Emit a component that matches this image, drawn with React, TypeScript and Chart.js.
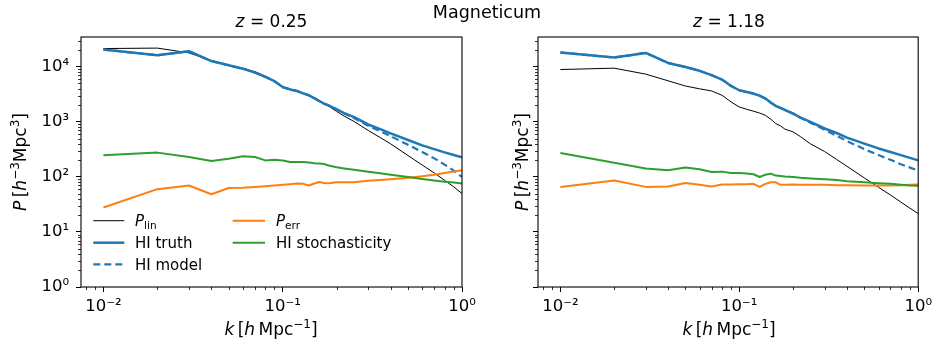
import React, { useEffect, useRef } from "react";
import { Chart, registerables } from "chart.js";

Chart.register(...registerables);

// ---- data ----
const K = [0.01, 0.02, 0.03, 0.04, 0.05, 0.06, 0.07, 0.08, 0.09, 0.1, 0.11, 0.12, 0.13, 0.14, 0.15, 0.16, 0.17, 0.18, 0.2, 0.22, 0.25, 0.3, 0.35, 0.4, 0.5, 0.6, 0.7, 0.8, 0.9, 1.0];

// z = 0.25
const LIN_A = [21600, 22000, 18000, 13000, 10800, 9400, 8200, 6800, 5500, 4300, 3950, 3700, 3350, 3000, 2650, 2350, 2150, 1950, 1550, 1280, 1020, 700, 520, 400, 245, 165, 118, 87, 66, 50];
const TRUTH_A = [20700, 16300, 19300, 12800, 10700, 9300, 7900, 6600, 5500, 4300, 3900, 3650, 3300, 3050, 2700, 2400, 2150, 2000, 1700, 1450, 1220, 900, 740, 620, 470, 375, 320, 280, 250, 228];
const MODEL_A = [20700, 16300, 19300, 12800, 10700, 9300, 7900, 6600, 5500, 4300, 3900, 3650, 3300, 3050, 2700, 2400, 2150, 2000, 1700, 1430, 1180, 850, 680, 550, 385, 285, 218, 168, 130, 100];
const ERR_A = [27.8, 60, 70, 48.5, 63, 64, 66, 68, 70, 72, 74, 76, 75, 70, 76, 81, 78, 77, 80, 80, 80, 85, 88, 91, 97, 103, 110, 118, 126, 133];
const STOCH_A = [248, 277, 231, 195, 215, 238, 231, 200, 205, 200, 187, 188, 188, 184, 178, 175, 172, 162, 150, 143, 135, 125, 117, 110, 100, 92, 86, 82, 79, 76];

// z = 1.18
const LIN_B = [8970, 9500, 7400, 5600, 4500, 4000, 3660, 3060, 2310, 1870, 1700, 1570, 1450, 1320, 1120, 935, 850, 740, 660, 540, 400, 290, 208, 156, 96, 65, 47, 35, 27, 21.6];
const TRUTH_B = [18300, 14800, 18000, 11800, 10000, 8500, 7100, 5900, 4500, 3770, 3500, 3280, 3000, 2660, 2250, 1950, 1800, 1650, 1420, 1200, 1000, 760, 630, 520, 404, 330, 285, 250, 222, 200];
const MODEL_B = [18300, 14800, 18000, 11800, 10000, 8500, 7100, 5900, 4500, 3770, 3500, 3280, 3000, 2660, 2250, 1950, 1800, 1650, 1420, 1190, 970, 720, 560, 450, 320, 250, 205, 170, 148, 130];
const ERR_B = [66, 86, 66, 67, 78, 72, 67, 73, 73, 74, 74, 75, 66, 75, 80, 80, 72, 72, 73, 72, 72, 72, 71, 71, 70, 70, 70, 71, 72, 73];
const STOCH_B = [273, 182, 142, 133, 148, 138, 123, 125, 118, 118, 116, 112, 100, 110, 115, 106, 104, 102, 100, 97, 94, 91, 88, 84, 80, 77, 75, 72, 70, 69];

const X_MIN = 0.0075;
const X_MAX = 1;
const Y_MIN = 1;
const Y_MAX = 35000;

const X_DECADES = [-3, -2, -1, 0];
const Y_DECADES = [0, 1, 2, 3, 4];
const SUP: Record<string, string> = { "-2": "10\u207B\u00B2", "-1": "10\u207B\u00B9", "0": "10\u2070", "1": "10\u00B9", "2": "10\u00B2", "3": "10\u00B3", "4": "10\u2074" };

const FONT = "'DejaVu Sans', sans-serif";
const BLUE = "#1f77b4";
const ORANGE = "#ff7f0e";
const GREEN = "#2ca02c";

function isMajor(v: number) {
  const l = Math.log10(v);
  return Math.abs(l - Math.round(l)) < 1e-6;
}

function logTicks(decades: number[], min: number, max: number) {
  const out: number[] = [];
  for (const d of decades) {
    for (let m = 1; m <= 9; m++) {
      const v = parseFloat((m * Math.pow(10, d)).toPrecision(6));
      if (v >= min - 1e-12 && v <= max + 1e-12) out.push(v);
    }
  }
  return out;
}

const X_TICKS = logTicks(X_DECADES, X_MIN, X_MAX);
const Y_TICKS = logTicks(Y_DECADES, Y_MIN, Y_MAX);

function tickLabel(v: number) {
  if (!isMajor(v)) return "";
  const key = String(Math.round(Math.log10(v)));
  return SUP[key] ?? "";
}

function makeDatasets(lin: number[], truth: number[], model: number[], err: number[], stoch: number[]) {
  const pts = (arr: number[]) => K.map((k, i) => ({ x: k, y: arr[i] }));
  const base = { pointRadius: 0, fill: false, tension: 0, borderJoinStyle: "round" as const, borderCapStyle: "butt" as const };
  return [
    { ...base, label: "P_lin", data: pts(lin), borderColor: "#000", borderWidth: 1, order: 5 },
    { ...base, label: "HI truth", data: pts(truth), borderColor: BLUE, borderWidth: 2.5, order: 4 },
    { ...base, label: "HI model", data: pts(model), borderColor: BLUE, borderWidth: 2.2, borderDash: [7, 4], order: 3 },
    { ...base, label: "P_err", data: pts(err), borderColor: ORANGE, borderWidth: 2, order: 2 },
    { ...base, label: "HI stochasticity", data: pts(stoch), borderColor: GREEN, borderWidth: 2, order: 1 },
  ];
}

const framePlugin = {
  id: "frame",
  afterDraw(chart: any) {
    const { ctx, chartArea: a } = chart;
    ctx.save();
    ctx.strokeStyle = "#000";
    ctx.lineWidth = 0.8;
    for (const id of ["x", "y"]) {
      const s = chart.scales[id];
      for (const t of s.ticks) {
        if (isMajor(t.value)) continue;
        const p = Math.round(s.getPixelForValue(t.value)) + 0.5;
        ctx.beginPath();
        if (id === "x") {
          ctx.moveTo(p, a.bottom);
          ctx.lineTo(p, a.bottom + 3);
        } else {
          ctx.moveTo(a.left, p);
          ctx.lineTo(a.left - 3, p);
        }
        ctx.stroke();
      }
    }
    ctx.lineWidth = 1.1;
    ctx.strokeRect(a.left, a.top, a.right - a.left, a.bottom - a.top);
    ctx.restore();
  },
};

type PanelProps = {
  left: number;
  width: number;
  padRight: number;
  yWidth: number;
  showYLabels: boolean;
  datasets: any[];
};

function Panel({ left, width, padRight, yWidth, showYLabels, datasets }: PanelProps) {
  const ref = useRef<HTMLCanvasElement>(null);
  useEffect(() => {
    const tickFont = { family: FONT, size: 16.5 };
    const grid = {
      display: true,
      drawOnChartArea: false,
      drawTicks: true,
      tickLength: 5,
      tickWidth: 1,
      tickColor: (c: any) => (c.tick && isMajor(c.tick.value) ? "#000" : "rgba(0,0,0,0)"),
    };
    const chart = new Chart(ref.current as HTMLCanvasElement, {
      type: "line",
      data: { datasets },
      options: {
        responsive: false,
        animation: false,
        devicePixelRatio: 1,
        layout: { padding: { left: 0, right: padRight, top: 37, bottom: 0 } },
        plugins: { legend: { display: false }, tooltip: { enabled: false }, title: { display: false } },
        scales: {
          x: {
            type: "logarithmic",
            min: X_MIN,
            max: X_MAX,
            afterBuildTicks: (s: any) => {
              s.ticks = X_TICKS.map((v) => ({ value: v }));
            },
            afterFit: (s: any) => {
              s.height = 56;
            },
            grid,
            border: { display: false },
            ticks: {
              autoSkip: false,
              maxRotation: 0,
              minRotation: 0,
              padding: 5,
              color: "#000",
              font: tickFont,
              callback: (v: any) => tickLabel(Number(v)),
            },
          },
          y: {
            type: "logarithmic",
            min: Y_MIN,
            max: Y_MAX,
            afterBuildTicks: (s: any) => {
              s.ticks = Y_TICKS.map((v) => ({ value: v }));
            },
            afterFit: (s: any) => {
              s.width = yWidth;
            },
            grid,
            border: { display: false },
            ticks: {
              autoSkip: false,
              padding: 7,
              color: "#000",
              font: tickFont,
              callback: (v: any) => (showYLabels ? tickLabel(Number(v)) : ""),
            },
          },
        },
      } as any,
      plugins: [framePlugin],
    });
    return () => chart.destroy();
  }, []);
  return (
    <canvas
      ref={ref}
      width={width}
      height={343}
      style={{ position: "absolute", left, top: 0, width, height: 343 }}
    />
  );
}

const LEG_ROWS = [220.7, 242.7, 264.3];

function Overlay() {
  const t = { fontFamily: FONT, fill: "#000" } as const;
  const xLabel = (cx: number) => (
    <text x={cx} y={335} textAnchor="middle" fontSize={17} {...t}>
      <tspan fontStyle="italic">k</tspan>
      {"\u2009["}
      <tspan fontStyle="italic">h</tspan>
      {"\u2009Mpc"}
      <tspan dy={-7} fontSize={12}>{"\u22121"}</tspan>
      <tspan dy={7}>]</tspan>
    </text>
  );
  const yLabel = (bx: number) => (
    <text transform={`translate(${bx},162) rotate(-90)`} textAnchor="middle" fontSize={17} {...t}>
      <tspan fontStyle="italic">P</tspan>
      {"\u2009["}
      <tspan fontStyle="italic">h</tspan>
      <tspan dy={-7} fontSize={12}>{"\u22123"}</tspan>
      <tspan dy={7}>Mpc</tspan>
      <tspan dy={-7} fontSize={12}>3</tspan>
      <tspan dy={7}>]</tspan>
    </text>
  );
  return (
    <svg width={937} height={343} style={{ position: "absolute", left: 0, top: 0, pointerEvents: "none" }}>
      <text x={487} y={18.3} textAnchor="middle" fontSize={17.5} {...t}>Magneticum</text>
      <text x={271.5} y={27.3} textAnchor="middle" fontSize={17} {...t}>
        <tspan fontStyle="italic">z</tspan>
        {" = 0.25"}
      </text>
      <text x={729} y={27.3} textAnchor="middle" fontSize={17} {...t}>
        <tspan fontStyle="italic">z</tspan>
        {" = 1.18"}
      </text>
      {xLabel(271)}
      {xLabel(729)}
      {yLabel(26)}
      {yLabel(528)}

      {/* legend */}
      <line x1={93.3} x2={124.3} y1={LEG_ROWS[0]} y2={LEG_ROWS[0]} stroke="#000" strokeWidth={1} />
      <line x1={93.3} x2={124.3} y1={LEG_ROWS[1]} y2={LEG_ROWS[1]} stroke={BLUE} strokeWidth={2.5} />
      <line x1={93.3} x2={124.3} y1={LEG_ROWS[2]} y2={LEG_ROWS[2]} stroke={BLUE} strokeWidth={2.2} strokeDasharray="7 4" />
      <line x1={232.7} x2={265} y1={LEG_ROWS[0]} y2={LEG_ROWS[0]} stroke={ORANGE} strokeWidth={2} />
      <line x1={232.7} x2={265} y1={LEG_ROWS[1]} y2={LEG_ROWS[1]} stroke={GREEN} strokeWidth={2} />

      <text x={135} y={LEG_ROWS[0] + 5.5} fontSize={15} {...t}>
        <tspan fontStyle="italic">P</tspan>
        <tspan dy={3} fontSize={10.5}>lin</tspan>
      </text>
      <text x={135} y={LEG_ROWS[1] + 5.5} fontSize={15} {...t}>HI truth</text>
      <text x={135} y={LEG_ROWS[2] + 5.5} fontSize={15} {...t}>HI model</text>
      <text x={276} y={LEG_ROWS[0] + 5.5} fontSize={15} {...t}>
        <tspan fontStyle="italic">P</tspan>
        <tspan dy={3} fontSize={10.5}>err</tspan>
      </text>
      <text x={276} y={LEG_ROWS[1] + 5.5} fontSize={15} {...t}>HI stochasticity</text>
    </svg>
  );
}

export default function App() {
  const dsA = makeDatasets(LIN_A, TRUTH_A, MODEL_A, ERR_A, STOCH_A);
  const dsB = makeDatasets(LIN_B, TRUTH_B, MODEL_B, ERR_B, STOCH_B);
  return (
    <div style={{ position: "fixed", left: 0, top: 0, width: 937, height: 343, background: "#fff", overflow: "hidden" }}>
      <Panel left={0} width={490} padRight={28} yWidth={81} showYLabels={true} datasets={dsA} />
      <Panel left={470} width={467} padRight={17} yWidth={68} showYLabels={false} datasets={dsB} />
      <Overlay />
    </div>
  );
}
